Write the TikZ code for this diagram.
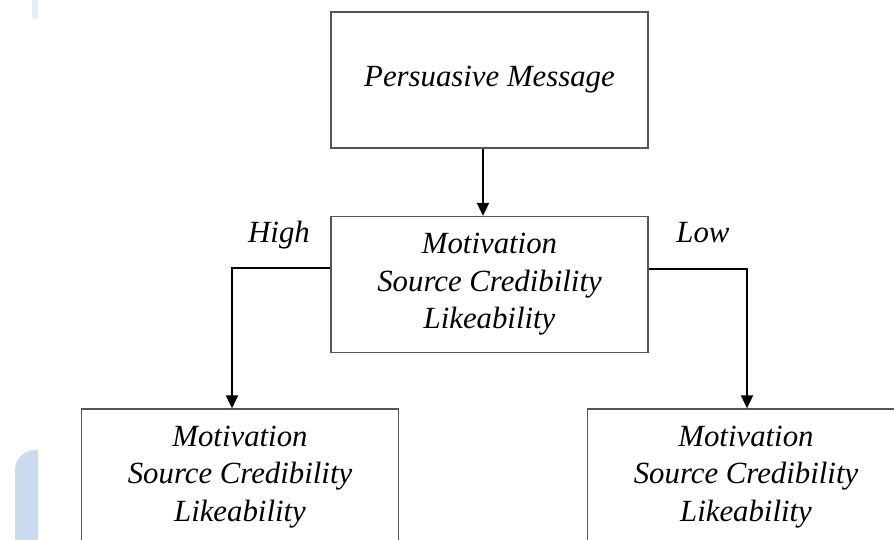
\documentclass[tikz,border=0pt]{standalone}
\usepackage{fontspec}
\setmainfont{Liberation Serif}
\usetikzlibrary{arrows.meta}
\definecolor{wmblue}{HTML}{C9DCEE}
\definecolor{wmblue2}{HTML}{E4EEF7}
\definecolor{boxline}{HTML}{555555}
\tikzset{
  box/.style={draw=boxline, line width=1.3pt, fill=white, minimum width=317pt, minimum height=136pt,
    inner sep=0pt, align=center, font=\fontsize{30.8}{37.5}\selectfont\itshape},
  lbl/.style={font=\fontsize{30.8}{37.5}\selectfont\itshape, inner sep=0pt, anchor=base},
  conn/.style={draw=black, line width=1.9pt, -{Triangle[length=13pt,width=12pt]}},
  plain/.style={draw=black, line width=1.8pt}
}
\begin{document}
\begin{tikzpicture}[x=1pt,y=1pt]
\useasboundingbox (0,0) rectangle (894,-540);
\clip (0,0) rectangle (894,-540);
\fill[white] (0,0) rectangle (894,-540);
% watermark shapes
\fill[wmblue] (15,-540) -- (15,-470) arc[start angle=180,end angle=90,radius=20] -- (38,-450) -- (38,-540) -- cycle;
\fill[wmblue2] (32,0) rectangle (38,-18);
% nodes
\node[box] (top) at (489.5,-80) {Persuasive Message};
\node[box] (mid) at (489.5,-284.5) {Motivation\\Source Credibility\\Likeability};
\node[box] (bl) at (240,-477) {Motivation\\Source Credibility\\Likeability};
\node[box] (br) at (746,-477) {Motivation\\Source Credibility\\Likeability};
% connectors
\draw[conn] ([xshift=-6.5pt]top.south) -- ([xshift=-6.5pt]mid.north);
\draw[conn] ([yshift=16.5pt]mid.west) -| ([xshift=-8pt]bl.north);
\draw[conn] ([yshift=15.5pt]mid.east) -| ([xshift=1pt]br.north);
% labels
\node[lbl] (high) at (279,-243) {High};
\node[lbl] (low) at (703,-243) {Low};
\end{tikzpicture}
\end{document}
